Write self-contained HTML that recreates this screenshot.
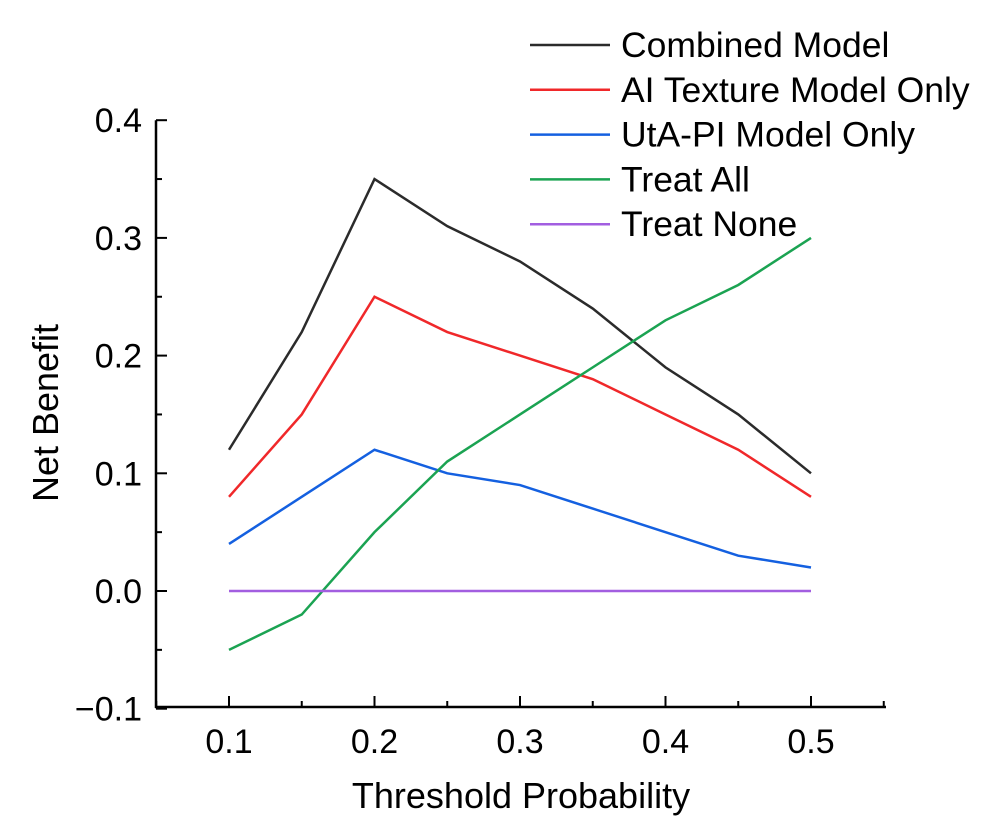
<!DOCTYPE html>
<html><head><meta charset="utf-8"><style>body{margin:0;background:#fff}svg{font-family:"Liberation Sans",Arial,sans-serif}</style></head>
<body>
<svg id="chart" width="1000" height="819" xmlns="http://www.w3.org/2000/svg">
<g id="axes"></g><g id="series"></g><g id="legend"></g>
</svg>
<script>
const xVals=[0.1,0.15,0.2,0.25,0.3,0.35,0.4,0.45,0.5];
const combined=[0.12,0.22,0.35,0.31,0.28,0.24,0.19,0.15,0.10];
const aiTexture=[0.08,0.15,0.25,0.22,0.20,0.18,0.15,0.12,0.08];
const utaPi=[0.04,0.08,0.12,0.10,0.09,0.07,0.05,0.03,0.02];
const treatAll=[-0.05,-0.02,0.05,0.11,0.15,0.19,0.23,0.26,0.30];
const treatNone=[0,0,0,0,0,0,0,0,0];
const xTicks=["0.1","0.2","0.3","0.4","0.5"];
const yTicks=["\u22120.1","0.0","0.1","0.2","0.3","0.4"];
const seriesNames=["Combined Model","AI Texture Model Only","UtA-PI Model Only","Treat All","Treat None"];
const seriesColors=["#2b2b2b","#f0282a","#1460e0","#1ba352","#a25ee0"];
const NS="http://www.w3.org/2000/svg";
const X=v=>229+(v-0.1)*1455;
const Y=v=>591-v*1177;
function mk(p,t,a){const e=document.createElementNS(NS,t);for(const k in a)e.setAttribute(k,a[k]);p.appendChild(e);return e;}
const ax=document.getElementById('axes');
const yAxis=mk(ax,'path',{d:`M156,${Y(0.4)}V708`,stroke:'#000','stroke-width':2.5,fill:'none'});


const xAxis=mk(ax,'path',{d:'M155,707H886',stroke:'#000','stroke-width':2.5,fill:'none'});


const yv=[-0.1,0,0.1,0.2,0.3,0.4];
yv.forEach((v,i)=>{
  mk(ax,'line',{x1:156,x2:167,y1:Y(v),y2:Y(v),stroke:'#000','stroke-width':2});
  if(i<5) mk(ax,'line',{x1:156,x2:162,y1:Y(v+0.05),y2:Y(v+0.05),stroke:'#000','stroke-width':2});
  const t=mk(ax,'text',{x:142,y:Y(v)+12,'text-anchor':'end','font-size':34});
  t.textContent=yTicks[i];
  
  
});
[0.1,0.2,0.3,0.4,0.5].forEach((v,i)=>{
  mk(ax,'line',{x1:X(v),x2:X(v),y1:707,y2:696,stroke:'#000','stroke-width':2});
  mk(ax,'line',{x1:X(v+0.05),x2:X(v+0.05),y1:707,y2:701,stroke:'#000','stroke-width':2});
  const t=mk(ax,'text',{x:X(v),y:753,'text-anchor':'middle','font-size':34});
  t.textContent=xTicks[i];
  
  
});
mk(ax,'line',{x1:X(0.05),x2:X(0.05),y1:707,y2:701,stroke:'#000','stroke-width':2});
const xt=mk(ax,'text',{x:521,y:808,'text-anchor':'middle','font-size':36});
xt.textContent='Threshold Probability';


const yt=mk(ax,'text',{x:0,y:0,'text-anchor':'middle','font-size':36,transform:'translate(58,413) rotate(-90)'});
yt.textContent='Net Benefit';


const sg=document.getElementById('series');
const data=[combined,aiTexture,utaPi,treatAll,treatNone];
const keys=['combined','ai-texture','uta-pi','treat-all','treat-none'];
data.forEach((arr,i)=>{
  const d=arr.map((v,j)=>(j?'L':'M')+X(xVals[j])+','+Y(v)).join('');
  const p=mk(sg,'path',{d,stroke:seriesColors[i],'stroke-width':2.5,fill:'none'});
  
  
});
const lg=document.getElementById('legend');
seriesNames.forEach((n,i)=>{
  const y=45+i*44.8;
  const g=mk(lg,'g',{});
  
  
  mk(g,'line',{x1:530,x2:610,y1:y,y2:y,stroke:seriesColors[i],'stroke-width':2.5});
  const t=mk(g,'text',{x:621,y:y+12,'font-size':35.5});
  t.textContent=n;
});
</script>
</body></html>
